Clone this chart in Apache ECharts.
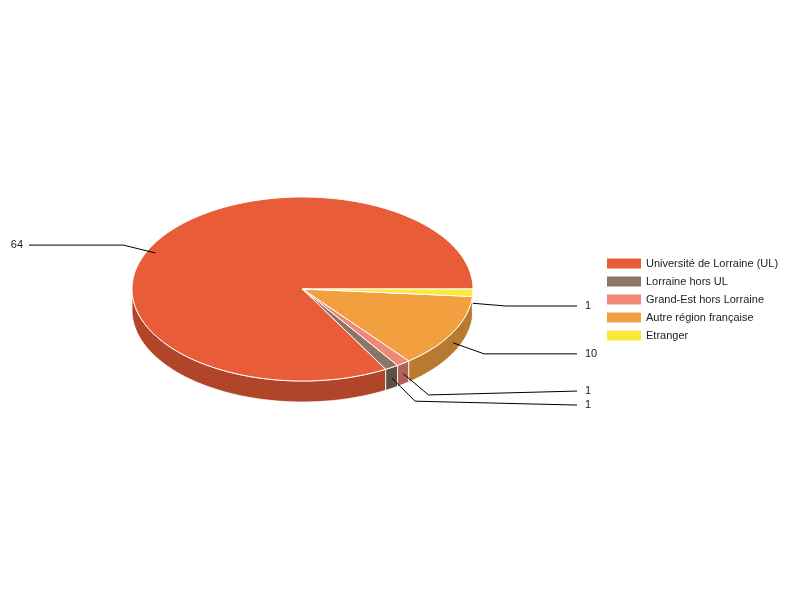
<!DOCTYPE html>
<html>
<head>
<meta charset="utf-8">
<script src="https://cdn.jsdelivr.net/npm/echarts@6/dist/echarts.min.js"></script>
<style>html,body{margin:0;padding:0;background:#fff}#c{width:800px;height:600px}</style>
</head>
<body>
<div id="c"></div>
<script>
var categories = ['Université de Lorraine (UL)', 'Lorraine hors UL', 'Grand-Est hors Lorraine', 'Autre région française', 'Etranger'];
var values = [64, 1, 1, 10, 1];
var topColors = ['#E85D38', '#8C7566', '#EF8878', '#F2A03F', '#FAE83C'];
var sideColors = ['#B0452A', '#5F5046', '#B2625A', '#B87A31', '#BDAE2C'];

var CX = 302.5, CY = 289, RX = 170.5, RY = 92, DEPTH = 21;
var FONT = '11px "Liberation Sans", Arial, sans-serif';
var GAP = 14;

var total = values.reduce(function (a, b) { return a + b; }, 0);
var slices = [];
var acc = 0;
values.forEach(function (v, i) {
  var a1 = acc / total * 360;
  acc += v;
  var a2 = acc / total * 360;
  slices.push({ a1: a1, a2: a2, mid: (a1 + a2) / 2 });
});

function pt(a, dy) {
  var r = a * Math.PI / 180;
  return [CX + RX * Math.cos(r), CY - RY * Math.sin(r) + (dy || 0)];
}
function arcPts(a1, a2, dy) {
  var n = Math.max(2, Math.ceil((a2 - a1) / 1.5));
  var out = [];
  for (var k = 0; k <= n; k++) out.push(pt(a1 + (a2 - a1) * k / n, dy));
  return out;
}

// label layout
slices.forEach(function (s) {
  var anc = pt(s.mid, DEPTH / 2);
  s.anchor = anc;
  var dx = anc[0] - CX, dy = anc[1] - CY;
  var len = Math.sqrt(dx * dx + dy * dy);
  s.elbow = [anc[0] + dx / len * 33, anc[1] + dy / len * 33];
  s.right = anc[0] >= CX;
  s.ly = s.elbow[1];
});
['right', 'left'].forEach(function (side) {
  var grp = slices.filter(function (s) { return (side === 'right') === s.right; })
    .sort(function (a, b) { return a.ly - b.ly; });
  var clusters = grp.map(function (s) { return { items: [s], sum: s.ly }; });
  function place(c) {
    var n = c.items.length, center = c.sum / n;
    c.top = center - (n - 1) * GAP / 2;
    c.bottom = c.top + (n - 1) * GAP;
  }
  clusters.forEach(place);
  var merged = true;
  while (merged) {
    merged = false;
    for (var i = 1; i < clusters.length; i++) {
      if (clusters[i].top < clusters[i - 1].bottom + GAP) {
        var a = clusters[i - 1], b = clusters[i];
        var c = { items: a.items.concat(b.items), sum: a.sum + b.sum };
        place(c);
        clusters.splice(i - 1, 2, c);
        merged = true;
        break;
      }
    }
  }
  clusters.forEach(function (c) {
    c.items.forEach(function (s, k) { s.ly = c.top + k * GAP; });
  });
});

function renderItem(params, api) {
  var i = params.dataIndex;
  var s = slices[i];
  var children = [];
  var f1 = Math.max(s.a1, 180), f2 = Math.min(s.a2, 360);
  if (f2 > f1) {
    var topE = arcPts(f1, f2, 0);
    var botE = arcPts(f1, f2, DEPTH).reverse();
    children.push({
      type: 'polygon',
      shape: { points: topE.concat(botE) },
      style: { fill: sideColors[i], stroke: '#fff', lineWidth: 0.8 }
    });
  }
  var pts = [[CX, CY]].concat(arcPts(s.a1, s.a2, 0));
  children.push({
    type: 'polygon',
    shape: { points: pts },
    style: { fill: topColors[i], stroke: '#fff', lineWidth: 1 }
  });
  return { type: 'group', children: children };
}

function renderLabel(params, api) {
  var i = params.dataIndex;
  var s = slices[i];
  var endX = s.right ? 577 : 29;
  return {
    type: 'group',
    children: [
      {
        type: 'polyline',
        shape: { points: [s.anchor, s.elbow, [endX, s.ly]] },
        style: { stroke: '#000', lineWidth: 1, fill: null }
      },
      {
        type: 'text',
        style: {
          text: String(api.value(0)),
          x: s.right ? 585 : 23,
          y: s.ly,
          textAlign: s.right ? 'left' : 'right',
          textVerticalAlign: 'middle',
          fill: '#222',
          font: FONT
        }
      }
    ]
  };
}

var chart = echarts.init(document.getElementById('c'), null, { renderer: 'canvas' });
chart.setOption({
  backgroundColor: '#fff',
  animation: false,
  legend: {
    orient: 'vertical',
    left: 602,
    top: 253,
    itemWidth: 34,
    itemHeight: 10,
    itemGap: 7,
    icon: 'rect',
    selectedMode: false,
    textStyle: { fontSize: 11, color: '#222', fontFamily: '"Liberation Sans", Arial, sans-serif' },
    data: categories
  },
  series: [
    {
      type: 'pie',
      radius: [0, 0],
      center: [-50, -50],
      silent: true,
      label: { show: false },
      labelLine: { show: false },
      data: categories.map(function (c, i) {
        return { name: c, value: values[i], itemStyle: { color: topColors[i] } };
      })
    },
    {
      type: 'custom',
      coordinateSystem: 'none',
      silent: true,
      renderItem: renderItem,
      data: values
    },
    {
      type: 'custom',
      coordinateSystem: 'none',
      silent: true,
      renderItem: renderLabel,
      data: values
    }
  ]
});
</script>
</body>
</html>
